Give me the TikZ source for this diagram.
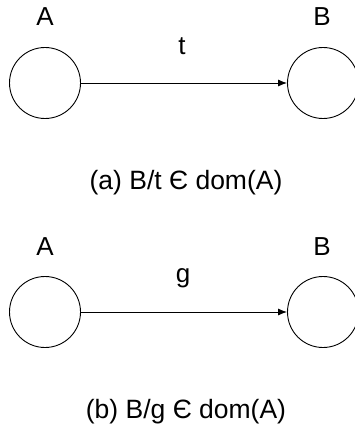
\documentclass[tikz,border=0pt]{standalone}
\usepackage{fontspec}
\setmainfont{Liberation Sans}
\usetikzlibrary{arrows.meta}

\tikzset{
  state/.style={circle,draw=black,line width=0.9pt,minimum size=71pt,inner sep=0pt},
  lbl/.style={inner sep=0pt,font=\fontsize{26}{30}\selectfont},
  caption/.style={inner sep=0pt,font=\fontsize{26.5}{30}\selectfont},
  edge/.style={line width=0.9pt,-{Latex[length=9pt,width=7pt]}}
}

\begin{document}
\begin{tikzpicture}[x=1pt,y=1pt]
      \useasboundingbox (0,0) rectangle (355,-430);

      % (a) transition on t
      \node[lbl] (la) at (45,-17){A};
      \node[lbl] (lb) at (322,-17){B};
      \node[state] (a) at (45,-83){};
      \node[state] (b) at (323,-83){};
      \node[lbl] (t) at (182,-46){t};
      \node[caption] (ca) at (186,-183){(a) B/t Є dom(A)};

      % (b) transition on g
      \node[lbl] (lc) at (45,-247){A};
      \node[lbl] (ld) at (322,-247){B};
      \node[state] (c) at (45,-312){};
      \node[state] (d) at (323,-312){};
      \node[lbl,anchor=base] (g) at (183,-282){g};
      \node[caption] (cb) at (186,-412){(b) B/g Є dom(A)};

      \draw[edge] (a) -- (b);
      \draw[edge] (c) -- (d);
\end{tikzpicture}
\end{document}
